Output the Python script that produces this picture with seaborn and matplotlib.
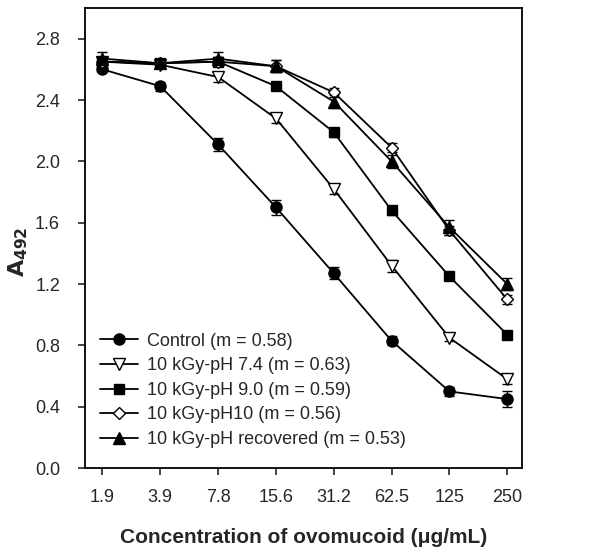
import matplotlib
matplotlib.use("Agg")
import matplotlib.pyplot as plt
import seaborn as sns
import pandas as pd
import numpy as np

conc = [1.953, 3.906, 7.8125, 15.625, 31.25, 62.5, 125, 250]
tick_labels = ["1.9", "3.9", "7.8", "15.6", "31.2", "62.5", "125", "250"]

control = [2.60, 2.49, 2.11, 1.70, 1.27, 0.83, 0.50, 0.45]
control_err = [0.02, 0.03, 0.04, 0.05, 0.04, 0.03, 0.03, 0.05]
ph74 = [2.65, 2.63, 2.55, 2.28, 1.82, 1.32, 0.85, 0.58]
ph74_err = [0.03, 0.02, 0.03, 0.03, 0.03, 0.04, 0.02, 0.03]
ph90 = [2.65, 2.64, 2.65, 2.49, 2.19, 1.68, 1.25, 0.87]
ph90_err = [0.02, 0.03, 0.03, 0.02, 0.03, 0.03, 0.02, 0.02]
ph10 = [2.65, 2.64, 2.65, 2.62, 2.45, 2.09, 1.55, 1.10]
ph10_err = [0.03, 0.02, 0.03, 0.04, 0.03, 0.03, 0.03, 0.03]
phrec = [2.67, 2.64, 2.67, 2.62, 2.39, 2.00, 1.57, 1.20]
phrec_err = [0.04, 0.03, 0.04, 0.04, 0.04, 0.04, 0.05, 0.04]

labels = ["Control (m = 0.58)", "10 kGy-pH 7.4 (m = 0.63)", "10 kGy-pH 9.0 (m = 0.59)",
          "10 kGy-pH10 (m = 0.56)", "10 kGy-pH recovered (m = 0.53)"]
series = [control, ph74, ph90, ph10, phrec]
errs = [control_err, ph74_err, ph90_err, ph10_err, phrec_err]
markers = ["o", "v", "s", "D", "^"]
faces = ["black", "white", "black", "white", "black"]
msizes = [8, 8, 7.5, 6.5, 8]

sns.set_style("ticks")
plt.rcParams['font.family'] = ['Liberation Sans', 'DejaVu Sans']

fig = plt.figure(figsize=(6.08, 5.52), dpi=100)
ax = fig.add_axes([0.140, 0.152, 0.719, 0.8335])

for lab, ys, er, mk, fc, ms in zip(labels, series, errs, markers, faces, msizes):
    df = pd.DataFrame({"x": conc, "y": ys})
    ax.errorbar(conc, ys, yerr=er, fmt="none", ecolor="black", elinewidth=1.0,
                capsize=3.5, capthick=1.0, zorder=2)
    sns.lineplot(data=df, x="x", y="y", ax=ax, color="black", linewidth=1.3,
                 marker=mk, markersize=ms, markerfacecolor=fc,
                 markeredgecolor="black", markeredgewidth=1.0, label=lab, zorder=3)

ax.set_xscale("log", base=2)
ax.set_xlim(1.953 * 2 ** -0.3, 250 * 2 ** 0.26)
ax.set_ylim(0, 3.0)
ax.set_xticks(conc)
ax.set_xticklabels(tick_labels)
ax.minorticks_off()
ax.set_yticks([0.0, 0.4, 0.8, 1.2, 1.6, 2.0, 2.4, 2.8])
ax.set_yticklabels(["0.0", "0.4", "0.8", "1.2", "1.6", "2.0", "2.4", "2.8"])
ax.tick_params(axis="both", labelsize=13, length=5, width=1.2, direction="out")
ax.tick_params(axis="y", pad=13)
ax.tick_params(axis="x", pad=10)
for s in ax.spines.values():
    s.set_linewidth(1.3)
    s.set_color("black")

ax.set_xlabel("Concentration of ovomucoid (\u03bcg/mL)", fontsize=15, fontweight="bold", labelpad=16)
ax.set_ylabel(r"$\mathbf{A_{492}}$", fontsize=16)
ax.yaxis.set_label_coords(-0.125, 0.47)

leg = ax.legend(loc="lower left", bbox_to_anchor=(0.01, 0.02), frameon=False,
                fontsize=13, handlelength=2.1, handletextpad=0.5, labelspacing=0.42,
                borderaxespad=0.2)

fig.savefig("out.png", dpi=100)
